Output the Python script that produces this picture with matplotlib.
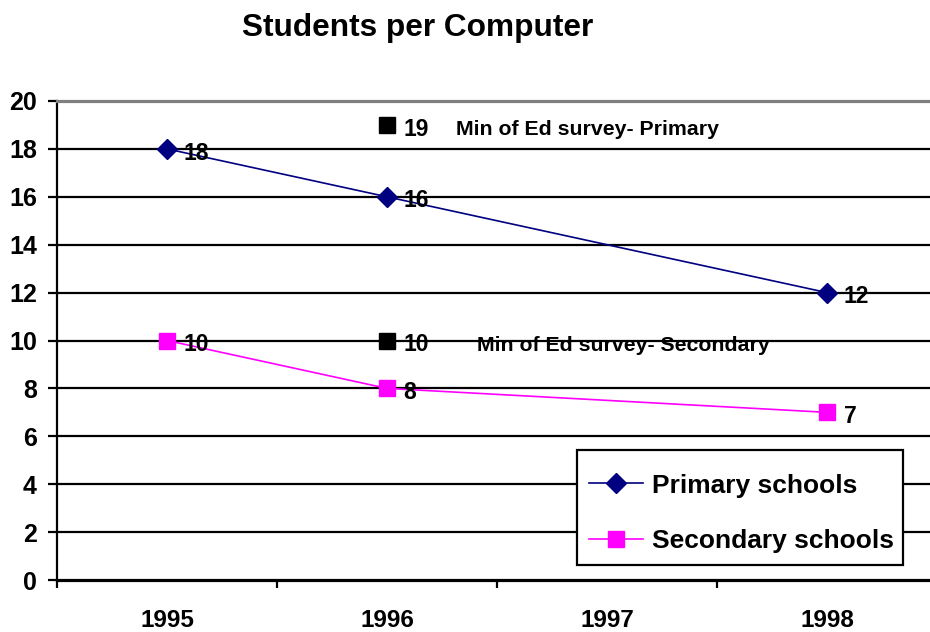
import matplotlib
matplotlib.use("Agg")
import matplotlib.pyplot as plt
from matplotlib.patches import Rectangle
from matplotlib.ticker import FixedLocator, NullFormatter

plt.rcParams['font.family'] = ['Liberation Sans', 'DejaVu Sans']
plt.rcParams['font.weight'] = 'bold'

years = ['1995', '1996', '1997', '1998']
primary_x = [0, 1, 3]
primary = [18, 16, 12]
secondary_x = [0, 1, 3]
secondary = [10, 8, 7]
survey_x = [1, 1]
survey = [19, 10]
survey_names = ['Min of Ed survey- Primary', 'Min of Ed survey- Secondary']
survey_name_x = [1.314, 1.409]

W, H = 930, 632
fig = plt.figure(figsize=(W / 100, H / 100), dpi=100)
# plot area runs past the right edge of the figure
ax = fig.add_axes([57 / W, 52 / H, 880 / W, 479 / H])

ax.set_xlim(-0.5, 3.5)
ax.set_ylim(0, 20)

ax.plot(primary_x, primary, color='#000080', lw=1.2, marker='D', ms=10,
        mfc='#000080', mec='#000080', label='Primary schools', zorder=4)
ax.plot(secondary_x, secondary, color='#FF00FF', lw=1.2, marker='s', ms=11,
        mfc='#FF00FF', mec='#FF00FF', label='Secondary schools', zorder=4)
ax.plot(survey_x, survey, ls='none', marker='s', ms=11, mfc='black',
        mec='black', zorder=4)

lab_kw = dict(fontsize=16.5, fontweight='bold', va='center', ha='left',
              textcoords='offset points', zorder=5)
for xs, ys in ((primary_x, primary), (secondary_x, secondary), (survey_x, survey)):
    for x, y in zip(xs, ys):
        ax.annotate(f'{y}', (x, y), xytext=(12, -3), **lab_kw)

for name, nx, y in zip(survey_names, survey_name_x, survey):
    ax.annotate(name, (nx, y), xytext=(0, -3.5), textcoords='offset points',
                fontsize=15.3, fontweight='bold', va='center', ha='left',
                zorder=5)

# gridlines
ax.set_yticks(range(0, 21, 2))
for v in range(2, 20, 2):
    ax.axhline(v, color='black', lw=1.6, zorder=1)

ax.spines['top'].set_color('#808080')
ax.spines['top'].set_linewidth(2.3)
ax.spines['right'].set_visible(False)
ax.spines['left'].set_linewidth(1.6)
ax.spines['bottom'].set_linewidth(2.3)

ax.tick_params(axis='y', direction='out', length=6.5, width=1.6, pad=8,
               labelsize=18)
for t in ax.get_yticklabels():
    t.set_fontweight('bold')

ax.set_xticks(range(len(years)))
ax.set_xticklabels(years, fontsize=17.5, fontweight='bold')
ax.tick_params(axis='x', which='major', length=0, pad=21)
ax.xaxis.set_minor_locator(FixedLocator([-0.5, 0.5, 1.5, 2.5, 3.5]))
ax.xaxis.set_minor_formatter(NullFormatter())
ax.tick_params(axis='x', which='minor', direction='out', length=5.5, width=1.6)

# legend box: white panel with black border, entries placed inside it
ax.add_patch(Rectangle((0.591, 0.0313), 0.3705, 0.240, transform=ax.transAxes,
                       facecolor='white', edgecolor='black', lw=1.6, zorder=6))
leg = ax.legend(loc='center left', bbox_to_anchor=(0.6045, 0.1388),
                prop={'weight': 'bold', 'size': 19},
                numpoints=1, handlelength=2.05, handletextpad=0.35,
                labelspacing=1.2, borderpad=0, frameon=False,
                borderaxespad=0)
leg.set_zorder(7)

fig.text(418 / W, 1 - 28 / H, 'Students per Computer', fontsize=22.8,
         fontweight='bold', ha='center', va='center')

fig.savefig('out.png', dpi=100)
